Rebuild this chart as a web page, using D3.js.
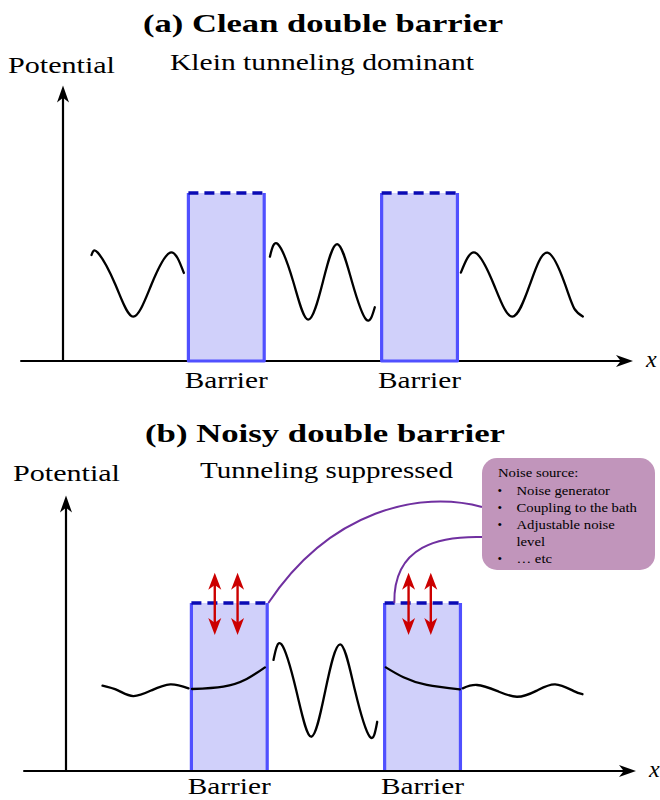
<!DOCTYPE html>
<html lang="en">
<head>
<meta charset="utf-8">
<title>Clean vs noisy double barrier</title>
<script src="https://d3js.org/d3.v7.min.js"></script>
<style>
	body { margin: 0; background: #fff; }
	svg text { font-family: "Liberation Serif", "Times New Roman", serif; fill: #000; }
	.wave { fill: none; stroke: #000; stroke-width: 2.3; stroke-linecap: round; }
	.axis-line { stroke: #000; stroke-width: 2.2; }
</style>
</head>
<body>
<script>
// ---------------- data ----------------
var panelTitles = ["(a) Clean double barrier", "(b) Noisy double barrier"];
var panelSubtitles = ["Klein tunneling dominant", "Tunneling suppressed"];
var barrierLabel = "Barrier";
var yAxisLabel = "Potential";
var xAxisLabel = "x";

// barrier edges (length units) and barrier height V0 = 1
var barrierX = [[2.2, 3.53], [5.59, 6.92]];
var barrierV = 1;
var xAxisExtent = [-0.75, 10];
var yAxisTop = 1.64;

// panel (a) wavefunction pieces, [x, psi]
var waveCleanLeft = [[0.50, 0.631], [0.61, 0.645], [0.92, 0.454], [1.23, 0.264], [1.55, 0.454], [1.88, 0.645], [2.12, 0.524]];
var waveCleanMid = [[3.63, 0.621], [3.77, 0.696], [4.04, 0.472], [4.30, 0.246], [4.56, 0.472], [4.81, 0.696], [5.07, 0.472], [5.32, 0.246], [5.47, 0.320]];
var waveCleanRight = [[6.98, 0.526], [7.23, 0.645], [7.56, 0.454], [7.88, 0.264], [8.19, 0.454], [8.50, 0.645], [8.81, 0.454], [8.97, 0.312], [9.12, 0.265]];

// panel (b) wavefunction pieces, [x, psi]
var waveNoisyLeft = [[0.64, 0.508], [0.91, 0.480], [1.18, 0.446], [1.50, 0.480], [1.83, 0.516], [2.15, 0.492]];
var waveNoisyIn1 = [[2.21, 0.488], [2.76, 0.502], [3.17, 0.548], [3.49, 0.617]];
var waveNoisyMid = [[3.64, 0.661], [3.78, 0.754], [4.04, 0.479], [4.30, 0.204], [4.55, 0.479], [4.81, 0.754], [5.07, 0.479], [5.33, 0.204], [5.46, 0.293]];
var waveNoisyIn2 = [[5.61, 0.617], [5.92, 0.558], [6.33, 0.512], [6.91, 0.486]];
var waveNoisyRight = [[6.96, 0.492], [7.21, 0.512], [7.56, 0.477], [7.91, 0.442], [8.25, 0.477], [8.58, 0.516], [8.90, 0.477], [9.06, 0.457]];

// fluctuating barrier heights (red double arrows)
var noiseArrowX = [2.61, 3.01, 6.01, 6.40];
var noiseArrowSpan = [0.81, 1.18];
// where the connectors leave the barrier tops
var connectorX = [3.55, 5.76];

var noiseTitle = "Noise source:";
var noiseItems = [["Noise generator"], ["Coupling to the bath"], ["Adjustable noise", "level"], ["\u2026 etc"]];

// ---------------- drawing ----------------
var width = 660, height = 800;

var svg = d3.select("body")
	.append("svg")
	.attr("width", width)
	.attr("height", height);

var fillBarrier = "#d0d0fa",
	strokeBarrier = "#5050ff",
	strokeTop = "#0a0ab4",
	red = "#cc0000",
	purple = "#7030a0",
	boxFill = "#c195bb";

// two panels, same units, slightly different offsets
var panels = [
	{ x: d3.scaleLinear().domain([0, 10]).range([63, 633]),
	  y: d3.scaleLinear().domain([0, 1]).range([361, 193]),
	  titleX: 143, titleY: 32, subX: 170, subW: 304, subY: 70, potX: 8, potY: 73, labelDy: 27,
	  waves: [waveCleanLeft, waveCleanMid, waveCleanRight] },
	{ x: d3.scaleLinear().domain([0, 10]).range([66, 636]),
	  y: d3.scaleLinear().domain([0, 1]).range([771, 603]),
	  titleX: 145, titleY: 442, subX: 200, subW: 253, subY: 478, potX: 13, potY: 481, labelDy: 23,
	  waves: [waveNoisyLeft, waveNoisyIn1, waveNoisyMid, waveNoisyIn2, waveNoisyRight] }
];

function fitText(sel, w) {
	return sel.attr("textLength", w).attr("lengthAdjust", "spacingAndGlyphs");
}

// stealth-like arrow head, tip at (x,y), pointing along angle
function arrowHead(g, x, y, angle, len, wid, color) {
	g.append("path")
		.attr("d", "M0,0 L" + (-len) + "," + (-wid / 2) + " L" + (-len * 0.72) + ",0 L" + (-len) + "," + (wid / 2) + " Z")
		.attr("transform", "translate(" + x + "," + y + ") rotate(" + angle + ")")
		.attr("fill", color);
}

panels.forEach(function(p, i) {
	var g = svg.append("g");
	var x = p.x, y = p.y;
	var line = d3.line()
		.x(function(d) { return x(d[0]); })
		.y(function(d) { return y(d[1]); })
		.curve(d3.curveNatural);

	// titles
	fitText(g.append("text")
		.attr("x", p.titleX).attr("y", p.titleY)
		.style("font-size", "25px").style("font-weight", "bold")
		.text(panelTitles[i]), 360);
	fitText(g.append("text")
		.attr("x", p.subX).attr("y", p.subY)
		.style("font-size", "23px")
		.text(panelSubtitles[i]), p.subW);
	fitText(g.append("text")
		.attr("x", p.potX).attr("y", p.potY)
		.style("font-size", "23px")
		.text(yAxisLabel), 107);

	// barrier fill
	g.selectAll(".bfill")
		.data(barrierX)
		.enter().append("rect")
		.attr("x", function(d) { return x(d[0]); })
		.attr("y", y(barrierV))
		.attr("width", function(d) { return x(d[1]) - x(d[0]); })
		.attr("height", y(0) - y(barrierV))
		.attr("fill", fillBarrier);

	var drawAxes = function() {
		g.append("line").attr("class", "axis-line")
			.attr("x1", x(xAxisExtent[0])).attr("y1", y(0))
			.attr("x2", x(xAxisExtent[1]) - 10).attr("y2", y(0));
		arrowHead(g, x(xAxisExtent[1]), y(0), 0, 17, 12, "#000");
		g.append("line").attr("class", "axis-line")
			.attr("x1", x(0)).attr("y1", y(0))
			.attr("x2", x(0)).attr("y2", y(yAxisTop) + 10);
		arrowHead(g, x(0), y(yAxisTop), -90, 17, 12, "#000");
	};

	// in (a) barrier outline sits on the axis, in (b) the axis is on top
	if (i === 1) {
		g.selectAll(".bside")
			.data(barrierX)
			.enter().append("path")
			.attr("d", function(d) {
				return "M" + x(d[0]) + "," + y(0) + "V" + y(barrierV) + "M" + x(d[1]) + "," + y(barrierV) + "V" + y(0);
			})
			.attr("fill", "none").attr("stroke", strokeBarrier).attr("stroke-width", 3.2);
		drawAxes();
	} else {
		drawAxes();
		g.selectAll(".bside")
			.data(barrierX)
			.enter().append("path")
			.attr("d", function(d) {
				return "M" + x(d[0]) + "," + y(barrierV) + "V" + y(0) + "H" + x(d[1]) + "V" + y(barrierV);
			})
			.attr("fill", "none").attr("stroke", strokeBarrier).attr("stroke-width", 3.2)
			.attr("stroke-linejoin", "round");
	}

	// dashed barrier tops
	g.selectAll(".btop")
		.data(barrierX)
		.enter().append("line")
		.attr("x1", function(d) { return x(d[0]); })
		.attr("x2", function(d) { return x(d[1]); })
		.attr("y1", y(barrierV)).attr("y2", y(barrierV))
		.attr("stroke", strokeTop).attr("stroke-width", 3.6)
		.attr("stroke-dasharray", "10,6");

	// barrier labels
	g.selectAll(".blabel")
		.data(barrierX)
		.enter().append("text")
		.attr("x", function(d) { return (x(d[0]) + x(d[1])) / 2 - 41.5; })
		.attr("y", y(0) + p.labelDy)
		.style("font-size", "23px")
		.attr("textLength", 83).attr("lengthAdjust", "spacingAndGlyphs")
		.text(barrierLabel);

	// x label
	g.append("text")
		.attr("x", x(xAxisExtent[1]) + 13)
		.attr("y", y(0) + 6)
		.style("font-size", "24px").style("font-style", "italic")
		.text(xAxisLabel);

	// wavefunction
	g.selectAll(".wave-" + i)
		.data(p.waves)
		.enter().append("path")
		.attr("class", "wave")
		.attr("d", line);

	p.g = g;
});

// ---- noise decorations on panel (b) ----
var pb = panels[1], gb = pb.g;

noiseArrowX.forEach(function(v) {
	var xx = pb.x(v), yTop = pb.y(noiseArrowSpan[1]), yBot = pb.y(noiseArrowSpan[0]);
	gb.append("line")
		.attr("x1", xx).attr("x2", xx)
		.attr("y1", yTop + 10).attr("y2", yBot - 10)
		.attr("stroke", red).attr("stroke-width", 2.4);
	arrowHead(gb, xx, yTop, -90, 17, 13, red);
	arrowHead(gb, xx, yBot, 90, 17, 13, red);
});

// noise box
var box = { x: 482, y: 458, w: 173, h: 112 };

var c1 = [pb.x(connectorX[0]), pb.y(barrierV)];
var c2 = [pb.x(connectorX[1]), pb.y(barrierV)];
var path1 = d3.path();
path1.moveTo(c1[0], c1[1]);
path1.bezierCurveTo(c1[0] + 62, c1[1] - 93, c1[0] + 152, c1[1] - 113, box.x, box.y + 49);
var path2 = d3.path();
path2.moveTo(c2[0], c2[1]);
path2.bezierCurveTo(c2[0] - 1, c2[1] - 58, c2[0] + 46, c2[1] - 67, box.x, box.y + 79);

gb.selectAll(".conn")
	.data([path1.toString(), path2.toString()])
	.enter().append("path")
	.attr("d", function(d) { return d; })
	.attr("fill", "none")
	.attr("stroke", purple)
	.attr("stroke-width", 2);

gb.append("rect")
	.attr("x", box.x).attr("y", box.y)
	.attr("width", box.w).attr("height", box.h)
	.attr("rx", 15).attr("ry", 15)
	.attr("fill", boxFill);

var boxText = gb.append("g").style("font-size", "13px");
function stretch(t) {
	var n = t.node();
	t.attr("textLength", n.getComputedTextLength() * 1.13).attr("lengthAdjust", "spacingAndGlyphs");
}
stretch(boxText.append("text").attr("x", 498).attr("y", 476.5).text(noiseTitle));

var lineY = 495;
noiseItems.forEach(function(item) {
	boxText.append("text")
		.attr("x", 497.5).attr("y", lineY)
		.text("\u2022");
	item.forEach(function(s) {
		stretch(boxText.append("text").attr("x", 516.5).attr("y", lineY).text(s));
		lineY += 17.1;
	});
});
</script>
</body>
</html>
